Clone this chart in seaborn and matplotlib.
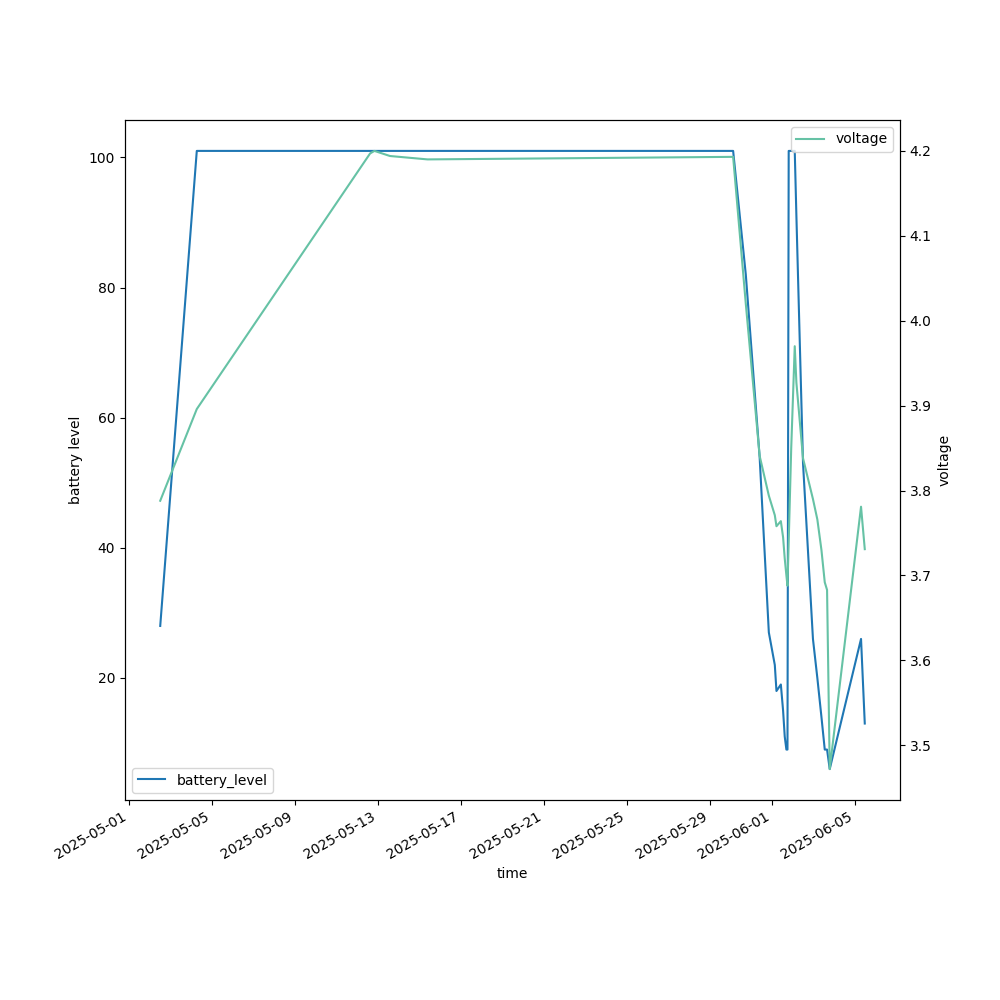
import pandas as pd
import seaborn as sns
import matplotlib
matplotlib.use("Agg")
import matplotlib.pyplot as plt

# 読み取った値
times = [
    "2025-05-02 12:00", "2025-05-04 06:20", "2025-05-12 15:00", "2025-05-12 20:00",
    "2025-05-13 14:00", "2025-05-15 09:30", "2025-05-30 03:20", "2025-05-30 18:00",
    "2025-05-31 10:00", "2025-05-31 20:40", "2025-06-01 03:35", "2025-06-01 05:30",
    "2025-06-01 10:35", "2025-06-01 13:10", "2025-06-01 15:05", "2025-06-01 17:00",
    "2025-06-01 18:15", "2025-06-01 19:40", "2025-06-01 22:35", "2025-06-02 02:40",
    "2025-06-02 04:35", "2025-06-02 12:15", "2025-06-02 23:45", "2025-06-03 04:50",
    "2025-06-03 09:35", "2025-06-03 13:25", "2025-06-03 16:05", "2025-06-03 19:10",
    "2025-06-05 07:25", "2025-06-05 11:45",
]
battery_level = [
    28, 101, 101, 101,
    101, 101, 101, 82,
    54, 27, 22, 18,
    19, 15, 11, 9,
    9, 101, 101, 101,
    91, 53, 26, 20,
    14, 9, 9, 6,
    26, 13,
]
voltage = [
    3.788, 3.896, 4.197, 4.200,
    4.194, 4.190, 4.193, 4.020,
    3.841, 3.794, 3.771, 3.758,
    3.764, 3.745, 3.720, 3.700,
    3.688, 3.740, 3.850, 3.970,
    3.927, 3.838, 3.790, 3.766,
    3.730, 3.692, 3.683, 3.472,
    3.781, 3.731,
]

df = pd.DataFrame({
    "time": pd.to_datetime(times),
    "battery_level": battery_level,
    "voltage": voltage,
})

fig = plt.figure(figsize=(10, 10), dpi=100)
ax = fig.add_subplot(111)
sns.lineplot(data=df, x="time", y="battery_level", ax=ax, color="#1f77b4", label="battery_level")
ax.set_ylabel("battery level")
ax.set_xlabel("time")
ax.legend(loc="lower left")

ax2 = ax.twinx()
sns.lineplot(data=df, x="time", y="voltage", ax=ax2, color="#66c2a5", label="voltage")
ax2.set_ylabel("voltage")
ax2.legend(loc="upper right")

fig.autofmt_xdate()
fig.savefig("out.png", dpi=100)
